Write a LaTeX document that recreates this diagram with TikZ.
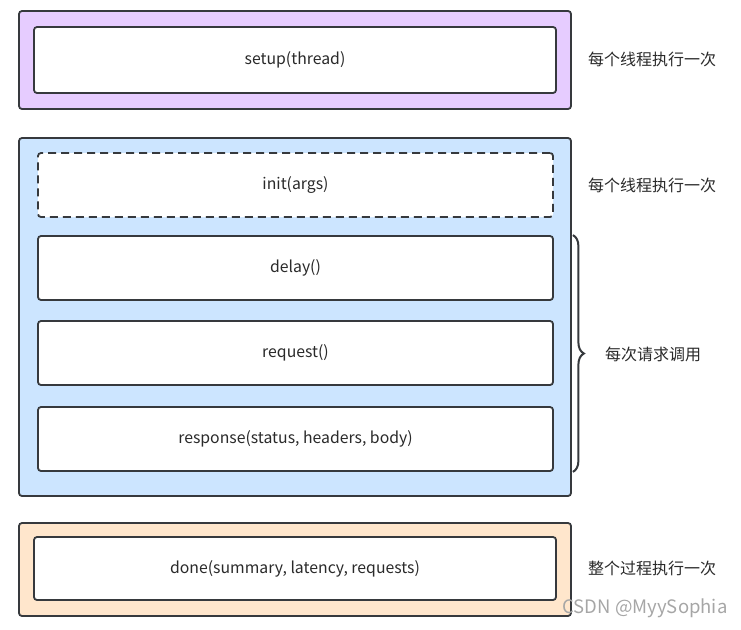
\documentclass[tikz,border=0pt]{standalone}
\usepackage{fontspec}
\setmainfont{Noto Sans CJK SC}
\usetikzlibrary{decorations.pathreplacing}
\definecolor{lavender}{HTML}{E6CCFF}
\definecolor{skyblue}{HTML}{CCE5FF}
\definecolor{peach}{HTML}{FFE6CC}
\definecolor{edgegray}{HTML}{36393D}
\definecolor{textgray}{HTML}{2A2A2A}
\begin{document}
\begin{tikzpicture}[x=1pt,y=-1pt,
  stagebox/.style={draw=edgegray,line width=1.8pt,rounded corners=3pt,inner sep=0pt,minimum width=552pt},
  callbox/.style={draw=edgegray,fill=white,line width=1.8pt,rounded corners=3pt,inner sep=0pt,
    minimum height=64pt,font=\fontsize{15.8}{18}\selectfont,text=textgray},
  note/.style={anchor=west,inner sep=0pt,font=\fontsize{16}{19}\selectfont,text=textgray}]
\useasboundingbox (0,0) rectangle (741,629);
% setup, once per thread
\node[stagebox,fill=lavender,minimum height=98pt] (setupstage) at (295,60) {};
\node[callbox,minimum width=522pt,minimum height=66pt] (setup) at (295,60) {setup(thread)};
\node[note] (setupnote) at (588,59) {每个线程执行一次};
% init and the per request calls
\node[stagebox,fill=skyblue,minimum height=358pt] (requeststage) at (295,317) {};
\node[callbox,minimum width=515pt,dash pattern=on 8pt off 5pt] (init) at (295.5,185) {init(args)};
\node[callbox,minimum width=515pt] (delay) at (295.5,268) {delay()};
\node[callbox,minimum width=515pt] (request) at (295.5,353) {request()};
\node[callbox,minimum width=515pt] (response) at (295.5,439) {response(status, headers, body)};
\node[note] (initnote) at (588,185) {每个线程执行一次};
\node[note] (requestnote) at (605,354) {每次请求调用};
\draw[edgegray,line width=2pt,decorate,decoration={brace,amplitude=11pt}]
  ([xshift=19pt]delay.north east) -- ([xshift=19pt]response.south east);
% done, once for the whole run
\node[stagebox,fill=peach,minimum height=93pt] (donestage) at (295,569.5) {};
\node[callbox,minimum width=522pt,minimum height=63pt] (done) at (295,568.5) {done(summary, latency, requests)};
\node[note] (donenote) at (588,568) {整个过程执行一次};
\node[font=\fontsize{18.5}{20}\selectfont,text=black!35,inner sep=0pt] (mark) at (645,608) {CSDN @MyySophia};
\end{tikzpicture}
\end{document}
